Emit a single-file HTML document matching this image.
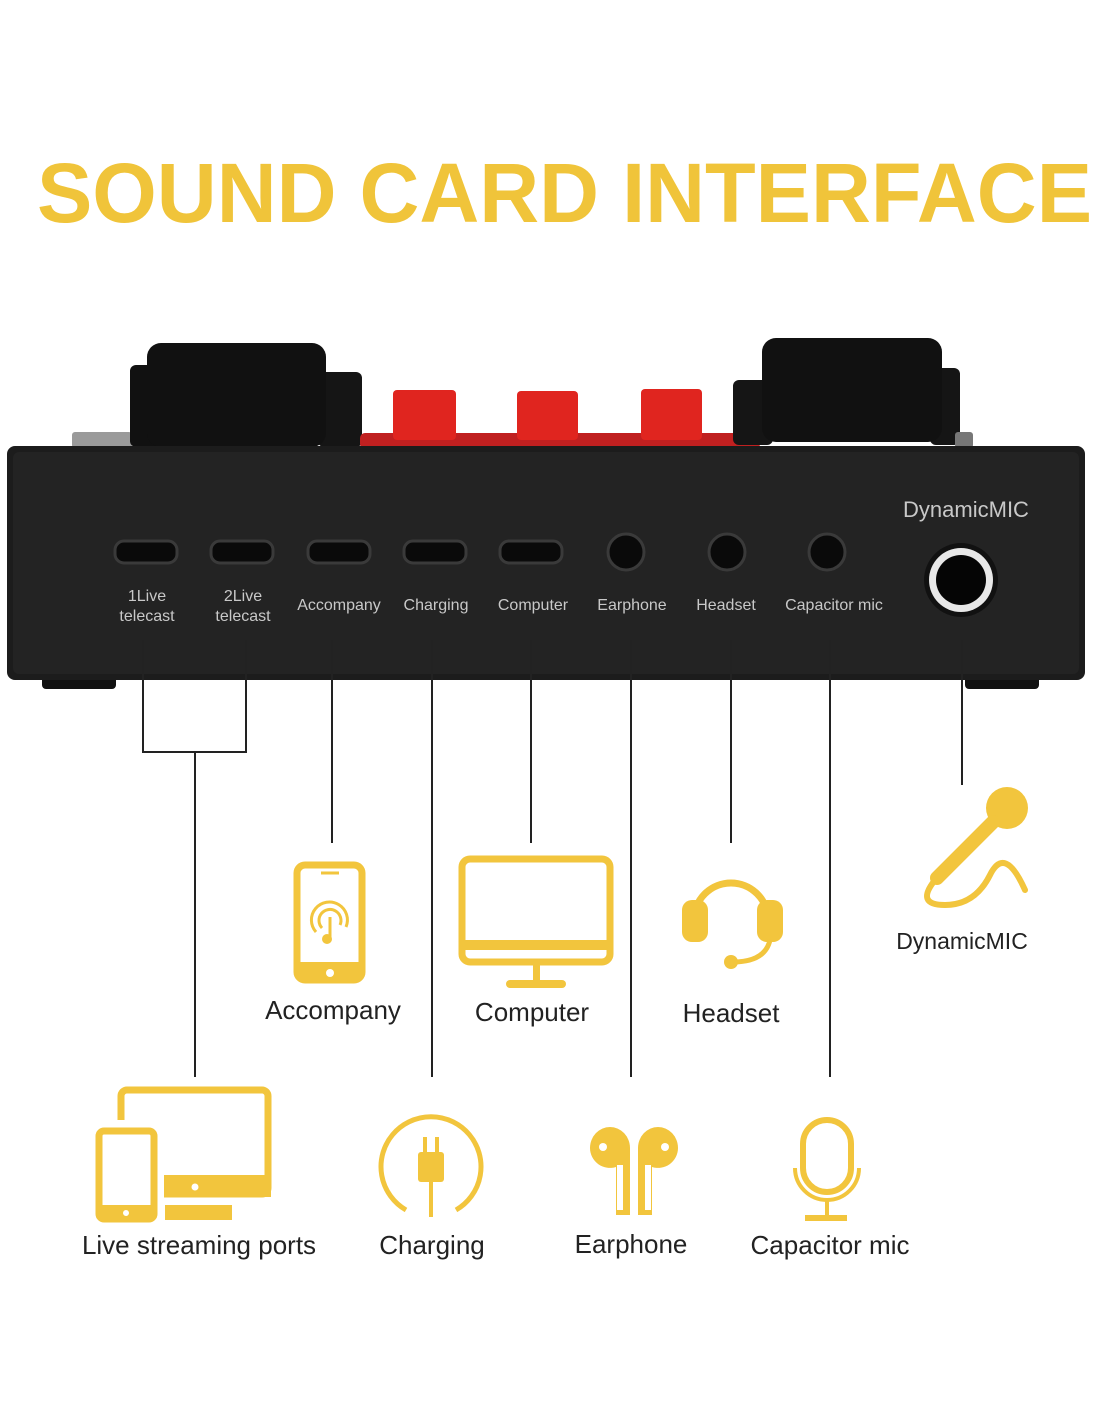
<!DOCTYPE html>
<html><head><meta charset="utf-8"><style>
html,body{margin:0;padding:0;background:#fff}
svg{display:block}
text{font-family:"Liberation Sans",Arial,sans-serif}
</style></head><body>
<svg width="1100" height="1422" viewBox="0 0 1100 1422" xmlns="http://www.w3.org/2000/svg">
<rect width="1100" height="1422" fill="#fff"/>
<text x="37" y="222" font-size="84" font-weight="bold" fill="#F0C43A" textLength="1055" lengthAdjust="spacingAndGlyphs">SOUND CARD INTERFACE</text>

<rect x="72" y="432" width="60" height="16" fill="#9a9a9a" rx="3"/>
<rect x="130" y="365" width="30" height="82" fill="#111" rx="6"/>
<rect x="318" y="372" width="44" height="75" fill="#151515" rx="6"/>
<rect x="147" y="343" width="179" height="104" fill="#111" rx="14"/>
<rect x="360" y="433" width="400" height="16" fill="#c02020" rx="5"/>
<rect x="393" y="390" width="63" height="50" fill="#e0251f" rx="4"/>
<rect x="517" y="391" width="61" height="49" fill="#e0251f" rx="4"/>
<rect x="641" y="389" width="61" height="51" fill="#e0251f" rx="4"/>
<rect x="733" y="380" width="40" height="65" fill="#151515" rx="6"/>
<rect x="930" y="368" width="30" height="77" fill="#151515" rx="6"/>
<rect x="762" y="338" width="180" height="104" fill="#111" rx="14"/>
<rect x="955" y="432" width="18" height="16" fill="#777" rx="3"/>
<rect x="42" y="676" width="74" height="13" fill="#111" rx="4"/>
<rect x="965" y="676" width="74" height="13" fill="#111" rx="4"/>
<rect x="7" y="446" width="1078" height="234" fill="#1c1c1c" rx="8"/>
<rect x="13" y="452" width="1066" height="222" fill="#232323" rx="6"/>
<g fill="#0a0a0a" stroke="#3a3a3a" stroke-width="3">
<rect x="115" y="541" width="62" height="22" rx="9"/>
<rect x="211" y="541" width="62" height="22" rx="9"/>
<rect x="308" y="541" width="62" height="22" rx="9"/>
<rect x="404" y="541" width="62" height="22" rx="9"/>
<rect x="500" y="541" width="62" height="22" rx="9"/>
<circle cx="626" cy="552" r="18"/>
<circle cx="727" cy="552" r="18"/>
<circle cx="827" cy="552" r="18"/>
</g>
<circle cx="961" cy="580" r="37" fill="#111"/>
<circle cx="961" cy="580" r="32" fill="#e8e8e8"/>
<circle cx="961" cy="580" r="25" fill="#050505"/>
<g fill="#c8c8c8" font-size="16" text-anchor="middle">
<text x="147" y="601">1Live</text><text x="147" y="621">telecast</text>
<text x="243" y="601">2Live</text><text x="243" y="621">telecast</text>
<text x="339" y="610">Accompany</text>
<text x="436" y="610">Charging</text>
<text x="533" y="610">Computer</text>
<text x="632" y="610">Earphone</text>
<text x="726" y="610">Headset</text>
<text x="834" y="610">Capacitor mic</text>
<text x="966" y="517" font-size="22">DynamicMIC</text>
</g>
<g stroke="#222" stroke-width="2" fill="none">
<path d="M143 640V752H246V640M195 752V1077"/>
<path d="M332 640V843M432 640V1077M531 640V843M631 640V1077M731 640V843M830 640V1077M962 640V785"/>
</g>
<g fill="#F2C53D" stroke="#F2C53D">
<rect x="297" y="865" width="65" height="115" rx="8" fill="none" stroke-width="7"/>
<rect x="297" y="962" width="65" height="18" stroke="none"/>
<circle cx="330" cy="973" r="4" fill="#fff" stroke="none"/>
<line x1="321" y1="873" x2="339" y2="873" stroke-width="3"/>
<path d="M316 932a18 18 0 1 1 30 -5M322 928a11 11 0 1 1 18 -3" fill="none" stroke-width="3"/>
<path d="M330 917v20" stroke-width="3"/><circle cx="327" cy="939" r="5" stroke="none"/>
<rect x="462" y="859" width="148" height="103" rx="8" fill="none" stroke-width="7"/>
<rect x="462" y="940" width="148" height="10" stroke="none"/>
<rect x="533" y="965" width="7" height="16" stroke="none"/>
<rect x="506" y="980" width="60" height="8" rx="4" stroke="none"/>
<path d="M694 920a37 37 0 0 1 74 0" fill="none" stroke-width="7"/>
<rect x="682" y="900" width="26" height="42" rx="10" stroke="none"/>
<rect x="757" y="900" width="26" height="42" rx="10" stroke="none"/>
<path d="M770 940q-5 22 -37 22" fill="none" stroke-width="5"/>
<circle cx="731" cy="962" r="7" stroke="none"/>
<circle cx="1007" cy="808" r="21" stroke="none"/>
<path d="M993 822L937 878" stroke-width="14" stroke-linecap="round" fill="none"/>
<path d="M935 880q-20 25 10 25t45 -30t35 15" fill="none" stroke-width="6" stroke-linecap="round"/>
<rect x="121" y="1090" width="147" height="104" rx="6" fill="none" stroke-width="7"/>
<rect x="160" y="1175" width="111" height="22" stroke="none"/>
<circle cx="195" cy="1187" r="3.5" fill="#fff" stroke="none"/>
<rect x="165" y="1205" width="67" height="15" stroke="none"/>
<rect x="88" y="1120" width="76" height="108" fill="#fff" stroke="none"/>
<rect x="99" y="1131" width="55" height="88" rx="5" fill="none" stroke-width="7"/>
<rect x="99" y="1205" width="55" height="14" stroke="none"/>
<circle cx="126" cy="1213" r="3" fill="#fff" stroke="none"/>
<path d="M406 1210a50 50 0 1 1 50 0" fill="none" stroke-width="5"/>
<rect x="418" y="1152" width="26" height="30" rx="3" stroke="none"/>
<rect x="423" y="1137" width="4" height="16" stroke="none"/><rect x="435" y="1137" width="4" height="16" stroke="none"/>
<path d="M431 1182v35" stroke-width="4" fill="none"/>
<!-- earphone -->
<path d="M590 1148a20 21 0 0 1 40 0v67h-14v-48a20 20 0 0 1 -26 -19z" stroke="none"/>
<path d="M678 1148a20 21 0 0 0 -40 0v67h14v-48a20 20 0 0 0 26 -19z" stroke="none"/>
<rect x="617" y="1165" width="6" height="45" fill="#fff" stroke="none"/>
<rect x="645" y="1165" width="6" height="45" fill="#fff" stroke="none"/>
<circle cx="603" cy="1147" r="4" fill="#fff" stroke="none"/>
<circle cx="665" cy="1147" r="4" fill="#fff" stroke="none"/>
<rect x="803" y="1120" width="48" height="72" rx="24" fill="none" stroke-width="6"/>
<path d="M795 1168a32 32 0 0 0 64 0" fill="none" stroke-width="4"/>
<path d="M827 1200v17" stroke-width="4"/>
<rect x="805" y="1215" width="42" height="6" stroke="none"/>
</g>
<g fill="#222" font-size="26" text-anchor="middle">
<text x="333" y="1019">Accompany</text>
<text x="532" y="1021">Computer</text>
<text x="731" y="1022">Headset</text>
<text x="962" y="949" font-size="23">DynamicMIC</text>
<text x="199" y="1254">Live streaming ports</text>
<text x="432" y="1254">Charging</text>
<text x="631" y="1253">Earphone</text>
<text x="830" y="1254">Capacitor mic</text>
</g>
</svg>
</body></html>
